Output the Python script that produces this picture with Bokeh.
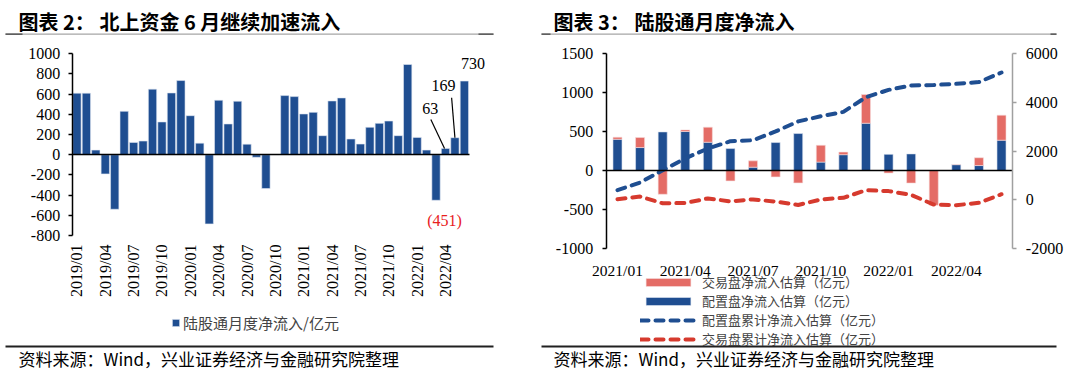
import math
from bokeh.plotting import figure
from bokeh.models import (Range1d, LinearAxis, FixedTicker, Label, BoxAnnotation,
                          Legend, LegendItem, ColumnDataSource)
from bokeh.layouts import row
from bokeh.embed import file_html
from bokeh.resources import INLINE

# ---------------- data: left panel ----------------
months_left = ["2019/01", "2019/02", "2019/03", "2019/04", "2019/05", "2019/06",
               "2019/07", "2019/08", "2019/09", "2019/10", "2019/11", "2019/12",
               "2020/01", "2020/02", "2020/03", "2020/04", "2020/05", "2020/06",
               "2020/07", "2020/08", "2020/09", "2020/10", "2020/11", "2020/12",
               "2021/01", "2021/02", "2021/03", "2021/04", "2021/05", "2021/06",
               "2021/07", "2021/08", "2021/09", "2021/10", "2021/11", "2021/12",
               "2022/01", "2022/02", "2022/03", "2022/04", "2022/05", "2022/06"]
flow_left = [610, 610, 46, -190, -540, 430, 122, 136, 650, 325, 612, 735,
             387, 115, -685, 540, 305, 530, 105, -25, -335, 2, 586, 576,
             404, 420, 189, 533, 563, 156, 106, 272, 311, 334, 189, 894,
             172, 46, -451, 63, 169, 730]
left_yticks = [-800, -600, -400, -200, 0, 200, 400, 600, 800, 1000]

# ---------------- data: right panel ----------------
months_right = ["2021/01", "2021/02", "2021/03", "2021/04", "2021/05", "2021/06",
                "2021/07", "2021/08", "2021/09", "2021/10", "2021/11", "2021/12",
                "2022/01", "2022/02", "2022/03", "2022/04", "2022/05", "2022/06"]
alloc_flow = [400, 294, 494, 499, 362, 281, 43, 358, 473, 108, 203, 605,
              207, 213, 0, 76, 64, 388]
trade_flow = [26, 128, -303, 21, 192, -132, 81, -81, -158, 215, 33, 367,
              -32, -160, -444, 0, 100, 320]
alloc_cum = [400, 710, 1210, 1700, 2100, 2400, 2440, 2800, 3210, 3420, 3600, 4200,
             4500, 4680, 4700, 4750, 4820, 5210]
trade_cum = [27, 135, -140, -125, 60, -60, 20, -70, -210, 20, 85, 397,
             360, 205, -190, -215, -120, 233]
right_yticks_l = [-1000, -500, 0, 500, 1000, 1500]
right_yticks_r = [-2000, 0, 2000, 4000, 6000]
legend_labels_right = ["交易盘净流入估算（亿元）", "配置盘净流入估算（亿元）",
                       "配置盘累计净流入估算（亿元）", "交易盘累计净流入估算（亿元）"]

# ---------------- styles ----------------
BLUE = "#1F4E91"
RED_BAR = "#E46C66"
RED_LINE = "#D63A2E"
SERIF = "Liberation Serif"
CJK = "Noto Sans CJK SC"
W, H = 540, 375


def span_range(p0, p1, v0, v1, total):
    """Range over the whole canvas so that value v0 sits at pixel p0 and v1 at p1."""
    s = (p1 - p0) / (v1 - v0)
    return Range1d(v0 - p0 / s, v1 + (total - p1) / s)


def y_span_range(top_px, bot_px, v_top, v_bot):
    return span_range(H - bot_px, H - top_px, v_bot, v_top, H)


def hyphen_labels(ticks):
    return {t: ("-%d" % abs(t) if t < 0 else "%d" % t) for t in ticks}


def screen_label(p, cx, cy, text, size="15px", bold=False, color="black", font=CJK):
    p.add_layout(Label(x=cx, y=H - cy, x_units="screen", y_units="screen",
                       text=text, text_font=font, text_font_size=size,
                       text_font_style="bold" if bold else "normal",
                       text_color=color, text_align="left", text_baseline="middle"))


def rule(p, x0, x1, y0, y1, color):
    p.add_layout(BoxAnnotation(left=x0, right=x1, top=H - y0, bottom=H - y1,
                               left_units="screen", right_units="screen",
                               top_units="screen", bottom_units="screen",
                               fill_color=color, fill_alpha=1.0, line_color=None,
                               line_alpha=0))


def legend_row(p, renderer, label, cx, cy, gw, gh, standoff, size_px):
    half = max(18.0, 1.448 * size_px) / 2.0  # rendered row height of a CJK label
    p.add_layout(Legend(items=[LegendItem(label=label, renderers=[renderer])],
                        location=(cx, H - (cy + half)), glyph_width=gw, glyph_height=gh,
                        label_height=18, label_standoff=standoff, spacing=0, padding=0,
                        margin=0, border_line_color=None, background_fill_alpha=0,
                        label_text_font=CJK, label_text_font_size="%gpx" % size_px))


def style_axis(ax, col="black", size="16px"):
    ax.axis_line_color = col
    ax.axis_line_width = 1.5
    ax.major_tick_line_color = col
    ax.major_tick_line_width = 1.5
    ax.major_tick_out = 4
    ax.major_tick_in = 0
    ax.minor_tick_line_color = None
    ax.major_label_standoff = 9
    ax.major_label_text_font = SERIF
    ax.major_label_text_font_size = size
    ax.major_label_text_color = "black"


def new_fig(xr, yr):
    p = figure(width=W, height=H, output_backend="svg", toolbar_location=None,
               title=None, x_range=xr, y_range=yr, x_axis_type=None, y_axis_type=None,
               min_border=0, min_border_left=0, min_border_right=0,
               min_border_top=0, min_border_bottom=0)
    p.outline_line_color = None
    p.grid.visible = False
    p.background_fill_color = "white"
    p.border_fill_color = "white"
    return p


# ================= LEFT FIGURE =================
n1 = len(flow_left)
p1 = new_fig(span_range(71.7, 468.6, -0.5, n1 - 0.5, W),
             y_span_range(53.3, 235.0, left_yticks[-1], left_yticks[0]))

src1 = ColumnDataSource(dict(x=list(range(n1)), top=flow_left))
bars1 = p1.vbar(x="x", top="top", bottom=0, width=0.88, source=src1,
                fill_color=BLUE, line_color="#dfe6f2", line_width=0.6)

ay1 = LinearAxis(fixed_location=-0.5, bounds=(left_yticks[0], left_yticks[-1]),
                 ticker=FixedTicker(ticks=left_yticks))
style_axis(ay1)
ay1.major_label_standoff = 8
ay1.major_label_overrides = hyphen_labels(left_yticks)
p1.add_layout(ay1, "left")

zero1 = LinearAxis(fixed_location=0, bounds=(-0.5, n1 - 0.5), ticker=FixedTicker(ticks=[]))
style_axis(zero1)
p1.add_layout(zero1, "below")

tick_idx = list(range(0, n1, 3))
ax1 = LinearAxis(fixed_location=left_yticks[0], ticker=FixedTicker(ticks=tick_idx))
style_axis(ax1)
ax1.axis_line_color = None
ax1.major_tick_line_color = None
ax1.major_tick_out = 0
ax1.major_label_standoff = 9
ax1.major_label_overrides = {i: months_left[i] for i in tick_idx}
ax1.major_label_orientation = math.pi / 2
p1.add_layout(ax1, "below")

# annotations for the last months
i451, i63, i169, i730 = n1 - 4, n1 - 3, n1 - 2, n1 - 1
p1.segment(x0=[i63 - 1.55, i169 - 0.35], y0=[flow_left[i63] + 285, flow_left[i169] + 395],
           x1=[i63 - 0.1, i169], y1=[flow_left[i63], flow_left[i169]],
           line_color="black", line_width=1.2)
for idx, dx, dy, txt, col in [(i63, -1.6, 395, str(flow_left[i63]), "black"),
                              (i169, -1.2, 515, str(flow_left[i169]), "black"),
                              (i730, 0.9, 175, str(flow_left[i730]), "black"),
                              (i451, 0.9, -205, "(%d)" % abs(flow_left[i451]), "#E8201C")]:
    p1.add_layout(Label(x=idx + dx, y=flow_left[idx] + dy, text=txt, text_font=SERIF,
                        text_font_size="16px", text_color=col, text_align="center",
                        text_baseline="middle"))

legend_row(p1, bars1, "陆股通月度净流入/亿元", 171, 322, 9, 9, 3, 15)

screen_label(p1, 18, 21, "图表 2： 北上资金 6 月继续加速流入", size="20px", bold=True)
screen_label(p1, 18, 358, "资料来源：Wind，兴业证券经济与金融研究院整理", size="17px")
rule(p1, 5, 493, 33, 34.2, "#A6A6A6")
rule(p1, 5, 22, 33, 34.2, "#404040")
rule(p1, 478, 493, 33, 34.2, "#404040")
rule(p1, 5, 493, 345, 347, "#202020")

# ================= RIGHT FIGURE =================
n2 = len(alloc_flow)
p2 = new_fig(span_range(65.7, 472.3, -0.5, n2 - 0.5, W),
             y_span_range(52.7, 248.3, right_yticks_l[-1], right_yticks_l[0]))
p2.extra_y_ranges = {"cum": y_span_range(52.7, 248.3, right_yticks_r[-1], right_yticks_r[0])}

xs = list(range(n2))
trade_bottom = [a if t >= 0 else 0 for a, t in zip(alloc_flow, trade_flow)]
trade_top = [a + t if t >= 0 else t for a, t in zip(alloc_flow, trade_flow)]
src2 = ColumnDataSource(dict(x=xs, alloc=alloc_flow, tb=trade_bottom, tt=trade_top,
                             ac=alloc_cum, tc=trade_cum))
r_blue = p2.vbar(x="x", bottom=0, top="alloc", width=0.4, source=src2,
                 fill_color=BLUE, line_color="#dfe6f2", line_width=0.6)
r_red = p2.vbar(x="x", bottom="tb", top="tt", width=0.4, source=src2,
                fill_color=RED_BAR, line_color="#f6dcdc", line_width=0.6)
l_blue = p2.line(x="x", y="ac", source=src2, y_range_name="cum", line_color=BLUE,
                 line_width=4, line_dash="8 7", line_cap="round")
l_red = p2.line(x="x", y="tc", source=src2, y_range_name="cum", line_color=RED_LINE,
                line_width=4, line_dash="8 7", line_cap="round")

ay2 = LinearAxis(fixed_location=-0.5, bounds=(right_yticks_l[0], right_yticks_l[-1]),
                 ticker=FixedTicker(ticks=right_yticks_l))
style_axis(ay2)
ay2.major_label_overrides = hyphen_labels(right_yticks_l)
p2.add_layout(ay2, "left")

ay2r = LinearAxis(y_range_name="cum", fixed_location=n2 - 0.5,
                  bounds=(right_yticks_r[0], right_yticks_r[-1]),
                  ticker=FixedTicker(ticks=right_yticks_r))
style_axis(ay2r, "#A0A0A0")
ay2r.major_label_overrides = hyphen_labels(right_yticks_r)
p2.add_layout(ay2r, "right")

zero2 = LinearAxis(fixed_location=0, bounds=(-0.5, n2 - 0.5), ticker=FixedTicker(ticks=[]))
style_axis(zero2)
p2.add_layout(zero2, "below")

tick_idx2 = list(range(0, n2, 3))
ax2 = LinearAxis(fixed_location=right_yticks_l[0], ticker=FixedTicker(ticks=tick_idx2))
style_axis(ax2, size="15.5px")
ax2.axis_line_color = None
ax2.major_tick_line_color = None
ax2.major_tick_out = 0
ax2.major_label_standoff = 13
ax2.major_label_overrides = {i: months_right[i] for i in tick_idx2}
p2.add_layout(ax2, "below")

for k, (rend, lab) in enumerate(zip([r_red, r_blue, l_blue, l_red], legend_labels_right)):
    legend_row(p2, rend, lab, 640 - 540, 282 + 18.9 * k, 56, 10, 6, 13)

screen_label(p2, 553 - 540, 21, "图表 3： 陆股通月度净流入", size="20px", bold=True)
screen_label(p2, 553 - 540, 358, "资料来源：Wind，兴业证券经济与金融研究院整理", size="17px")
rule(p2, 1, 516, 33, 34.2, "#A6A6A6")
rule(p2, 1, 10, 33, 34.2, "#404040")
rule(p2, 510, 516, 33, 34.2, "#404040")
rule(p2, 1, 516, 345, 347, "#202020")

layout = row(p1, p2, spacing=0)
open("out.html", "w").write(file_html(layout, INLINE))
